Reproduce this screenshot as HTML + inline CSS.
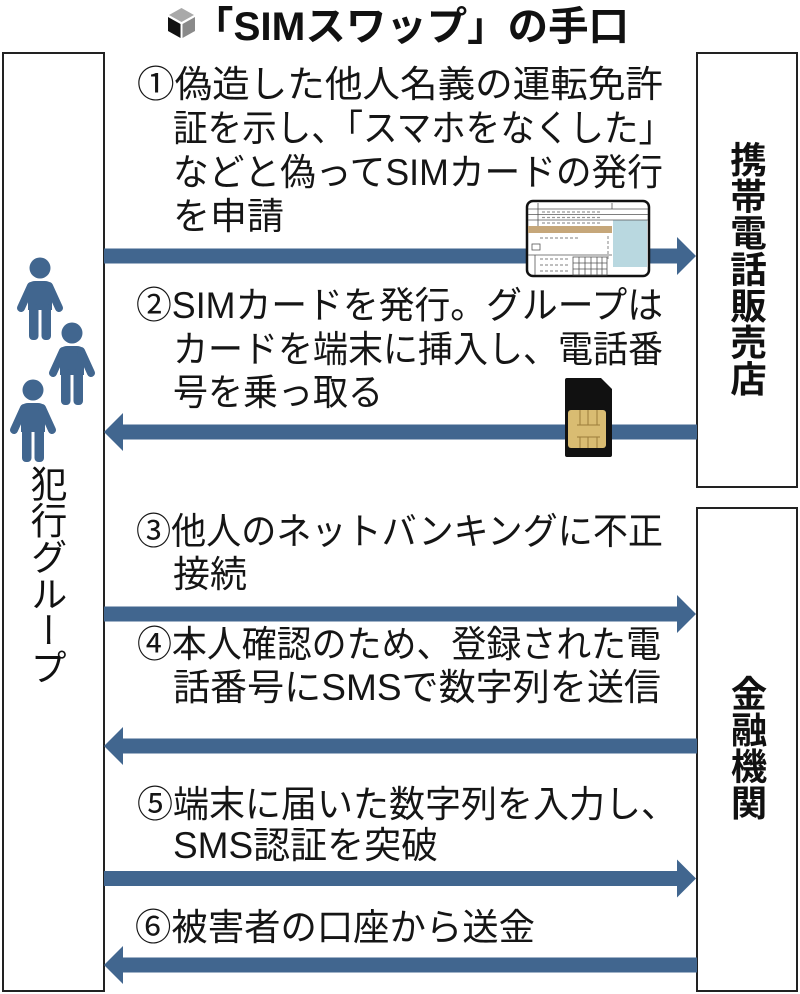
<!DOCTYPE html>
<html><head><meta charset="utf-8">
<style>
html,body{margin:0;padding:0;background:#fff;}
body{width:800px;height:994px;position:relative;overflow:hidden;}
svg{position:absolute;left:0;top:0;}
.v{position:absolute;writing-mode:vertical-rl;font-family:"Noto Sans CJK JP","Liberation Sans",sans-serif;color:#111;width:40px;line-height:40px;text-align:center;white-space:nowrap;}
</style></head>
<body>
<svg width="800" height="994" viewBox="0 0 800 994" xmlns="http://www.w3.org/2000/svg">
  <!-- boxes -->
  <g fill="none" stroke="#222" stroke-width="2">
    <rect x="3" y="53" width="101" height="938"/>
    <rect x="697" y="53" width="100" height="434"/>
    <rect x="697" y="508" width="100" height="483"/>
  </g>

  <!-- arrows -->
  <g fill="#41668f">
    <!-- 1 right -->
    <rect x="104" y="248.5" width="574" height="15"/>
    <polygon points="677,237 696,256 677,275"/>
    <!-- 2 left -->
    <rect x="122" y="424.5" width="575" height="15"/>
    <polygon points="123,413 104,432 123,451"/>
    <!-- 3 right -->
    <rect x="104" y="606.5" width="574" height="15"/>
    <polygon points="677,595 696,614 677,633"/>
    <!-- 4 left -->
    <rect x="122" y="738.5" width="575" height="15"/>
    <polygon points="123,727 104,746 123,765"/>
    <!-- 5 right -->
    <rect x="104" y="871" width="574" height="15"/>
    <polygon points="677,859.5 696,878.5 677,897.5"/>
    <!-- 6 left -->
    <rect x="122" y="957.5" width="575" height="15"/>
    <polygon points="123,946 104,965 123,984"/>
  </g>

  <!-- title cube icon -->
  <g>
    <polygon points="181.5,8 194,15 181.5,22 169,15" fill="#a9a9a9"/>
    <polygon points="168,17 180.5,24 180.5,38 168,31" fill="#111"/>
    <polygon points="182.5,24 195,17 195,31 182.5,38" fill="#8a8a8a"/>
  </g>
  <text x="193" y="40" font-family="Liberation Sans, Noto Sans CJK JP, sans-serif" font-weight="bold" font-size="40" fill="#111" textLength="436" lengthAdjust="spacingAndGlyphs">「SIMスワップ」の手口</text>

  <!-- body text -->
  <g font-family="Liberation Sans, Noto Sans CJK JP, sans-serif" font-size="37" fill="#151515">
    <text x="137" y="97" textLength="526" lengthAdjust="spacingAndGlyphs">①偽造した他人名義の運転免許</text>
    <text x="173" y="141" textLength="500" lengthAdjust="spacingAndGlyphs">証を示し、「スマホをなくした」</text>
    <text x="173" y="185" textLength="490" lengthAdjust="spacingAndGlyphs">などと偽ってSIMカードの発行</text>
    <text x="173" y="229">を申請</text>

    <text x="136" y="318" textLength="527" lengthAdjust="spacingAndGlyphs">②SIMカードを発行。グループは</text>
    <text x="173" y="362" textLength="490" lengthAdjust="spacingAndGlyphs">カードを端末に挿入し、電話番</text>
    <text x="173" y="405" textLength="210" lengthAdjust="spacingAndGlyphs">号を乗っ取る</text>

    <text x="136" y="544" textLength="527" lengthAdjust="spacingAndGlyphs">③他人のネットバンキングに不正</text>
    <text x="173" y="587">接続</text>

    <text x="137" y="657" textLength="524" lengthAdjust="spacingAndGlyphs">④本人確認のため、登録された電</text>
    <text x="173" y="700" textLength="488" lengthAdjust="spacingAndGlyphs">話番号にSMSで数字列を送信</text>

    <text x="137" y="817" textLength="540" lengthAdjust="spacingAndGlyphs">⑤端末に届いた数字列を入力し、</text>
    <text x="173" y="858">SMS認証を突破</text>

    <text x="135" y="940" textLength="400" lengthAdjust="spacingAndGlyphs">⑥被害者の口座から送金</text>
  </g>

  <!-- people -->
  <defs>
    <g id="person" fill="#41668f">
      <circle cx="0" cy="0" r="10.5"/>
      <path d="M-12,20 Q-12,13 -5,13 L5,13 Q12,13 12,20 L12,42 L-12,42 Z"/>
      <line x1="-9" y1="18" x2="-19" y2="40" stroke="#41668f" stroke-width="8" stroke-linecap="round"/>
      <line x1="9" y1="18" x2="19" y2="40" stroke="#41668f" stroke-width="8" stroke-linecap="round"/>
      <rect x="-11" y="36" width="9.5" height="36" rx="4"/>
      <rect x="1.5" y="36" width="9.5" height="36" rx="4"/>
    </g>
  </defs>
  <use href="#person" x="40" y="268"/>
  <use href="#person" x="72" y="333"/>
  <use href="#person" x="33" y="390"/>

  <!-- driver's license card -->
  <g>
    <rect x="527" y="201" width="122" height="75" rx="6" fill="#fff" stroke="#111" stroke-width="2.5"/>
    <rect x="613" y="220" width="34" height="47" fill="#b9d8e0"/>
    <rect x="528" y="226" width="84" height="7" fill="#c6a77a"/>
    <g stroke="#555" stroke-width="0.8" fill="none">
      <line x1="528" y1="209" x2="648" y2="209"/>
      <line x1="528" y1="214.5" x2="648" y2="214.5"/>
      <line x1="528" y1="220" x2="648" y2="220"/>
      <line x1="538" y1="203" x2="538" y2="226"/>
      <line x1="612" y1="203" x2="612" y2="209"/>
      <rect x="532" y="244" width="8" height="6"/>
      <line x1="528" y1="255" x2="612" y2="255"/>
      <line x1="535" y1="255" x2="535" y2="275"/>
      <rect x="573" y="257" width="34" height="18"/>
      <line x1="573" y1="263" x2="607" y2="263"/>
      <line x1="573" y1="269" x2="607" y2="269"/>
      <line x1="579" y1="257" x2="579" y2="275"/>
      <line x1="585" y1="257" x2="585" y2="275"/>
      <line x1="591" y1="257" x2="591" y2="275"/>
      <line x1="597" y1="257" x2="597" y2="275"/>
      <line x1="602" y1="257" x2="602" y2="275"/>
    </g>
    <g stroke="#999" stroke-width="1.2" stroke-dasharray="3,2">
      <line x1="542" y1="212" x2="600" y2="212"/>
      <line x1="542" y1="217.5" x2="600" y2="217.5"/>
      <line x1="542" y1="223" x2="600" y2="223"/>
      <line x1="540" y1="238" x2="578" y2="238"/>
      <line x1="540" y1="259" x2="570" y2="259"/>
      <line x1="540" y1="265" x2="570" y2="265"/>
      <line x1="540" y1="271" x2="570" y2="271"/>
      <line x1="608" y1="236" x2="608" y2="260"/>
    </g>
  </g>

  <!-- SIM card -->
  <g>
    <path d="M567,378 L601,378 L612,389 L612,455 Q612,457 610,457 L567,457 Q565,457 565,455 L565,380 Q565,378 567,378 Z" fill="#111"/>
    <rect x="568" y="410" width="38" height="38" rx="3" fill="#d9bc72"/>
    <g stroke="#9c7d3a" stroke-width="1" fill="none">
      <line x1="577" y1="425" x2="600" y2="425"/>
      <line x1="580" y1="410" x2="580" y2="425"/>
      <line x1="588" y1="410" x2="588" y2="425"/>
      <line x1="597" y1="410" x2="597" y2="425"/>
      <line x1="577" y1="437" x2="600" y2="437"/>
      <line x1="580" y1="437" x2="580" y2="448"/>
      <line x1="588" y1="437" x2="588" y2="448"/>
      <line x1="597" y1="437" x2="597" y2="448"/>
    </g>
  </g>
</svg>

<div class="v" style="left:728px;top:141px;font-size:36.5px;font-weight:bold;">携帯電話販売店</div>
<div class="v" style="left:729px;top:675px;font-size:36.3px;font-weight:bold;">金融機関</div>
<div class="v" style="left:29px;top:465px;font-size:36.7px;">犯行グループ</div>
</body></html>
